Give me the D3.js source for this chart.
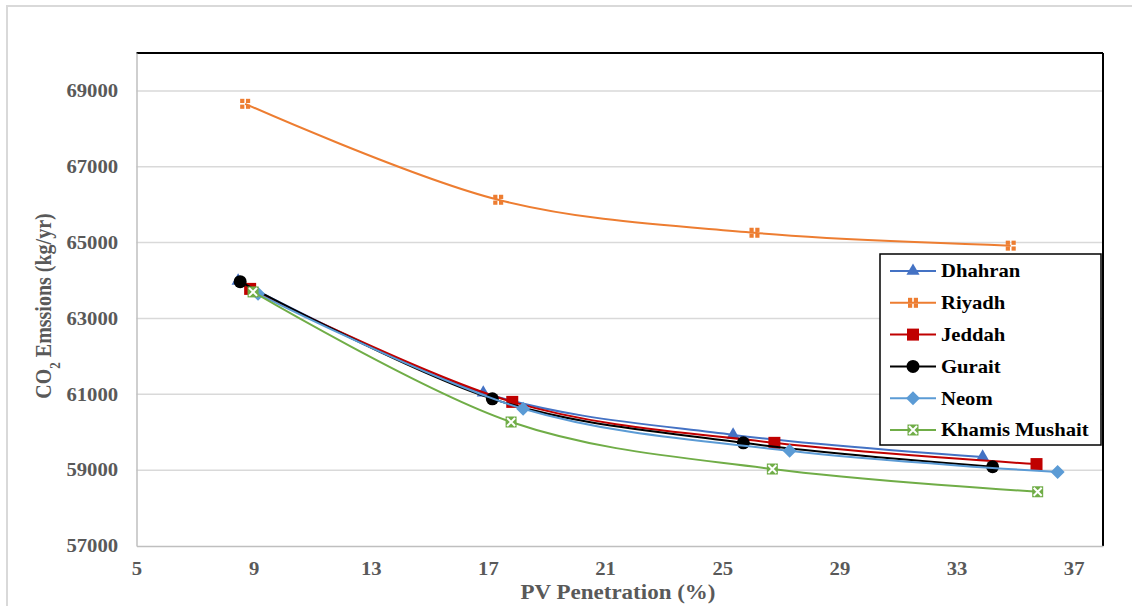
<!DOCTYPE html>
<html>
<head>
<meta charset="utf-8">
<script src="https://cdnjs.cloudflare.com/ajax/libs/d3/7.8.5/d3.min.js"></script>
<style>
  body { margin: 0; background: #fff; }
  text { font-family: "Liberation Serif", "Times New Roman", serif; font-weight: bold; }
</style>
</head>
<body>
<div id="chart"></div>
<script>
// data
const cities = ["Dhahran", "Riyadh", "Jeddah", "Gurait", "Neom", "Khamis Mushait"];

const dhahranPV = [8.47, 16.84, 25.37, 33.89];
const dhahranCO2 = [63990, 61040, 59930, 59350];
const riyadhPV = [8.71, 17.35, 26.1, 34.85];
const riyadhCO2 = [68660, 66130, 65260, 64920];
const jeddahPV = [8.88, 17.83, 26.78, 35.73];
const jeddahCO2 = [63780, 60800, 59720, 59160];
const guraitPV = [8.54, 17.15, 25.72, 34.23];
const guraitCO2 = [63970, 60880, 59720, 59090];
const neomPV = [9.15, 18.2, 27.3, 36.45];
const neomCO2 = [63650, 60620, 59510, 58950];
const khamisPV = [8.98, 17.79, 26.71, 35.77];
const khamisCO2 = [63700, 60270, 59030, 58430];

const xTicks = [5, 9, 13, 17, 21, 25, 29, 33, 37];
const yTicks = [57000, 59000, 61000, 63000, 65000, 67000, 69000];

const W = 1132, H = 606;
const stretch = 1.15; // the picture is a bit wider than tall

const series = [
  { name: cities[0], pv: dhahranPV, co2: dhahranCO2, color: "#4472C4", marker: "triangle" },
  { name: cities[1], pv: riyadhPV, co2: riyadhCO2, color: "#ED7D31", marker: "quad" },
  { name: cities[2], pv: jeddahPV, co2: jeddahCO2, color: "#C00000", marker: "square" },
  { name: cities[3], pv: guraitPV, co2: guraitCO2, color: "#000000", marker: "circle" },
  { name: cities[4], pv: neomPV, co2: neomCO2, color: "#5B9BD5", marker: "diamond" },
  { name: cities[5], pv: khamisPV, co2: khamisCO2, color: "#70AD47", marker: "xbox" }
];

const svg = d3.select("#chart").append("svg")
  .attr("width", W)
  .attr("height", H);

// outer chart border
svg.append("rect")
  .attr("x", 7).attr("y", 6)
  .attr("width", W + 20).attr("height", H + 20)
  .style("fill", "#fff")
  .style("stroke", "#d9d9d9")
  .style("stroke-width", 2);

const x = d3.scaleLinear().domain([5, 38]).range([136.5, 1103]);
const y = d3.scaleLinear().domain([57000, 70000]).range([546, 53]);

// gridlines
svg.append("g").selectAll("line")
  .data(yTicks.slice(1))
  .enter().append("line")
  .attr("x1", x(5)).attr("x2", x(38))
  .attr("y1", d => y(d)).attr("y2", d => y(d))
  .style("stroke", "#d9d9d9")
  .style("stroke-width", 1.5);

// plot border: black top and right, grey left and bottom
svg.append("line")
  .attr("x1", x(5)).attr("x2", x(38)).attr("y1", y(70000)).attr("y2", y(70000))
  .style("stroke", "#000").style("stroke-width", 2);
svg.append("line")
  .attr("x1", x(38)).attr("x2", x(38)).attr("y1", y(70000)).attr("y2", y(57000))
  .style("stroke", "#000").style("stroke-width", 2);

const xAxis = svg.append("g")
  .attr("transform", "translate(0," + y(57000) + ")")
  .call(d3.axisBottom(x).tickValues(xTicks).tickSize(0).tickPadding(16).tickFormat(d3.format("d")));
xAxis.select(".domain").style("stroke", "#bfbfbf").style("stroke-width", 1.5);
xAxis.selectAll("text")
  .style("font-size", "18px")
  .style("fill", "#595959")
  .attr("transform", "scale(" + stretch + ",1)");

const yAxis = svg.append("g")
  .attr("transform", "translate(" + x(5) + ",0)")
  .call(d3.axisLeft(y).tickValues(yTicks).tickSize(0).tickFormat(d3.format("d")));
yAxis.select(".domain").style("stroke", "#bfbfbf").style("stroke-width", 1.5);
yAxis.selectAll("text")
  .attr("x", -16)
  .style("font-size", "18px")
  .style("fill", "#595959")
  .attr("transform", "scale(" + stretch + ",1)");

// axis titles
svg.append("text")
  .attr("transform", "translate(618,599) scale(" + stretch + ",1)")
  .attr("text-anchor", "middle")
  .style("font-size", "20px")
  .style("fill", "#595959")
  .text("PV Penetration (%)");

const yTitle = svg.append("text")
  .attr("transform", "translate(51,306) scale(" + stretch + ",1) rotate(-90)")
  .attr("text-anchor", "middle")
  .style("font-size", "20px")
  .style("fill", "#595959");
yTitle.append("tspan").text("CO");
yTitle.append("tspan").attr("baseline-shift", "sub").style("font-size", "13px").text("2");
yTitle.append("tspan").text(" Emssions (kg/yr)");

// markers
function drawMarker(g, type, color) {
  if (type === "triangle") {
    g.append("path").attr("d", d3.symbol(d3.symbolTriangle, 75)()).style("fill", color);
  } else if (type === "square") {
    g.append("rect").attr("x", -6).attr("y", -6).attr("width", 12).attr("height", 12).style("fill", color);
  } else if (type === "circle") {
    g.append("circle").attr("r", 6.5).style("fill", color);
  } else if (type === "diamond") {
    g.append("path").attr("d", "M0,-7L7,0L0,7L-7,0Z").style("fill", color);
  } else if (type === "quad") {
    [[-5, -5], [0.8, -5], [-5, 0.8], [0.8, 0.8]].forEach(p => {
      g.append("rect").attr("x", p[0]).attr("y", p[1]).attr("width", 4.2).attr("height", 4.2).style("fill", color);
    });
  } else if (type === "xbox") {
    g.append("rect").attr("x", -5.5).attr("y", -5.5).attr("width", 11).attr("height", 11).style("fill", color);
    g.append("path").attr("d", "M-4,-4L4,4M4,-4L-4,4")
      .style("stroke", "#fff").style("stroke-width", 2);
  }
}

const line = d3.line()
  .x(d => x(d[0]))
  .y(d => y(d[1]))
  .curve(d3.curveCardinal.tension(0));

series.forEach(s => {
  const pts = s.pv.map((v, i) => [v, s.co2[i]]);
  svg.append("path")
    .datum(pts)
    .attr("d", line)
    .style("fill", "none")
    .style("stroke", s.color)
    .style("stroke-width", 2);
  svg.append("g").selectAll("g")
    .data(pts)
    .enter().append("g")
    .attr("transform", d => "translate(" + x(d[0]) + "," + y(d[1]) + ")")
    .each(function () { drawMarker(d3.select(this), s.marker, s.color); });
});

// legend
const legend = svg.append("g");
legend.append("rect")
  .attr("x", 880).attr("y", 254)
  .attr("width", 221).attr("height", 191)
  .style("fill", "#fff")
  .style("stroke", "#000")
  .style("stroke-width", 1.5);

series.forEach((s, i) => {
  const ly = 271 + i * 31.8;
  const item = legend.append("g");
  item.append("line")
    .attr("x1", 890).attr("x2", 936).attr("y1", ly).attr("y2", ly)
    .style("stroke", s.color).style("stroke-width", 2);
  drawMarker(item.append("g").attr("transform", "translate(913," + ly + ")"), s.marker, s.color);
  item.append("text")
    .attr("transform", "translate(941," + ly + ") scale(" + stretch + ",1)")
    .attr("dy", "0.35em")
    .style("font-size", "18px")
    .style("fill", "#000")
    .text(s.name);
});
</script>
</body>
</html>
